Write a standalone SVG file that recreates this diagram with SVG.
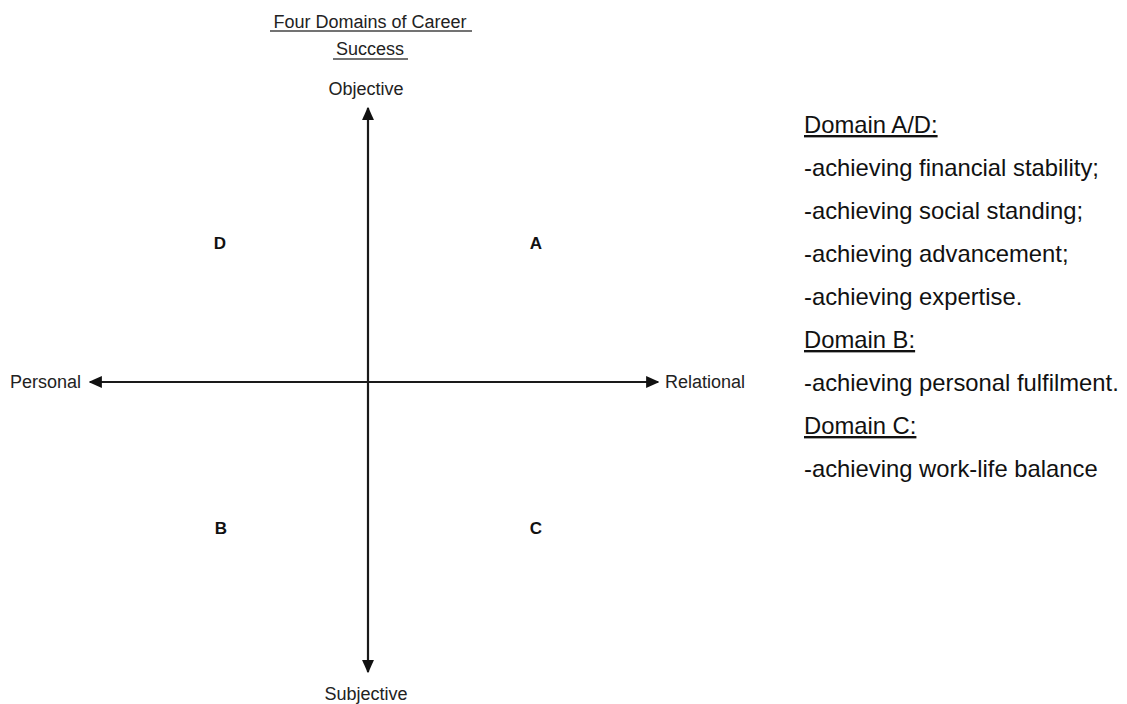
<svg xmlns="http://www.w3.org/2000/svg" width="1127" height="704" viewBox="0 0 1127 704">
  <style>
    .lbl { font-family: "Liberation Sans", Arial, sans-serif; font-size: 18px; fill: #222; }
    .quad { font-family: "Liberation Sans", Arial, sans-serif; font-size: 17px; font-weight: bold; fill: #111; }
    .note { font-family: "Liberation Sans", Arial, sans-serif; font-size: 23.8px; fill: #111; }
    .axis { stroke: #1a1a1a; stroke-width: 2.2; fill: none; }
    .rule { stroke: #444; stroke-width: 1.5; }
  </style>
  <defs>
    <marker id="arrow" viewBox="0 0 10 10" refX="9" refY="5" markerWidth="6" markerHeight="6" orient="auto-start-reverse">
      <path d="M0,0.5 L10,5 L0,9.5 Z" fill="#111"/>
    </marker>
  </defs>
  <rect width="1127" height="704" fill="#fff"/>

  <!-- heading -->
  <g id="title">
    <text class="lbl" x="370" y="28" text-anchor="middle">Four Domains of Career</text>
    <line class="rule" x1="270" y1="31" x2="472" y2="31"/>
    <text class="lbl" x="370" y="55" text-anchor="middle">Success</text>
    <line class="rule" x1="333" y1="59" x2="408" y2="59"/>
  </g>

  <!-- axes -->
  <g id="connectors">
    <line class="axis" x1="368" y1="672" x2="368" y2="108" marker-start="url(#arrow)" marker-end="url(#arrow)"/>
    <line class="axis" x1="90" y1="382" x2="658" y2="382" marker-start="url(#arrow)" marker-end="url(#arrow)"/>
  </g>

  <g id="objective"><text class="lbl" x="366" y="95" text-anchor="middle">Objective</text></g>
  <g id="subjective"><text class="lbl" x="366" y="700" text-anchor="middle">Subjective</text></g>
  <g id="personal"><text class="lbl" x="10" y="388">Personal</text></g>
  <g id="relational"><text class="lbl" x="665" y="388">Relational</text></g>

  <!-- quadrants -->
  <g id="quad-d"><text class="quad" x="220" y="249" text-anchor="middle">D</text></g>
  <g id="quad-a"><text class="quad" x="536" y="249" text-anchor="middle">A</text></g>
  <g id="quad-b"><text class="quad" x="221" y="534" text-anchor="middle">B</text></g>
  <g id="quad-c"><text class="quad" x="536" y="534" text-anchor="middle">C</text></g>

  <!-- domain notes -->
  <g id="notes">
    <text class="note" x="804" y="133" text-decoration="underline">Domain A/D:</text>
    <text class="note" x="804" y="176">-achieving financial stability;</text>
    <text class="note" x="804" y="219">-achieving social standing;</text>
    <text class="note" x="804" y="262">-achieving advancement;</text>
    <text class="note" x="804" y="305">-achieving expertise.</text>
    <text class="note" x="804" y="348" text-decoration="underline">Domain B:</text>
    <text class="note" x="804" y="391">-achieving personal fulfilment.</text>
    <text class="note" x="804" y="434" text-decoration="underline">Domain C:</text>
    <text class="note" x="804" y="477">-achieving work-life balance</text>
  </g>
</svg>
